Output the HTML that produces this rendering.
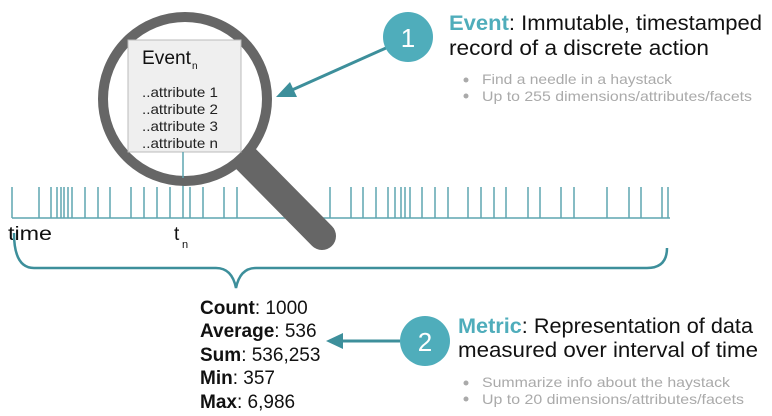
<!DOCTYPE html>
<html><head><meta charset="utf-8"><style>
body{margin:0;background:#fff;}
svg{display:block;font-family:"Liberation Sans",sans-serif;}
</style></head><body>
<svg width="772" height="416" viewBox="0 0 772 416" xmlns="http://www.w3.org/2000/svg">
<!-- timeline -->
<g stroke="#5ea5b0" stroke-width="1.5">
<line x1="12" y1="218" x2="670" y2="218"/>
<path d="M12 187V218M39 187V218M51 187V218M57 187V218M61 187V218M64 187V218M68 187V218M72 187V218M85 187V218M98 187V218M110 187V218M131 187V218M144 187V218M157 187V218M170 187V218M190 187V218M203 187V218M224 187V218M237 187V218M330 187V218M351 187V218M363 187V218M376 187V218M388 187V218M395 187V218M401 187V218M405 187V218M410 187V218M422 187V218M435 187V218M448 187V218M468 187V218M481 187V218M494 187V218M506 187V218M528 187V218M540 187V218M561 187V218M574 187V218M607 187V218M629 187V218M641 187V218M662 187V218M668 187V218"/>
<line x1="183" y1="152" x2="183" y2="218"/>
</g>
<text x="8" y="240" font-size="19" fill="#111" textLength="44" lengthAdjust="spacingAndGlyphs">time</text>
<text x="174" y="240" font-size="19" fill="#111">t</text>
<text x="182" y="248" font-size="11" fill="#111">n</text>
<!-- brace -->
<path d="M14 233 Q14 268 34 268 L216 268 Q232 268 236 288 Q240 268 256 268 L647 268 Q667 268 667 248" fill="none" stroke="#3d8f9b" stroke-width="2.5"/>
<!-- magnifier -->
<line x1="245" y1="158" x2="322" y2="236" stroke="#666" stroke-width="28" stroke-linecap="round"/>
<circle cx="185" cy="99" r="82" fill="#fff" stroke="#666" stroke-width="10"/>
<rect x="128" y="40" width="113" height="112" fill="#efefef" stroke="#bbb" stroke-width="1"/>
<line x1="183" y1="152" x2="183" y2="178" stroke="#5ea5b0" stroke-width="1.5"/>
<text x="142" y="64" font-size="19" fill="#111" textLength="49" lengthAdjust="spacingAndGlyphs">Event</text>
<text x="192" y="69" font-size="10" fill="#111">n</text>
<g font-size="14" fill="#222">
<text x="142" y="97" textLength="76" lengthAdjust="spacingAndGlyphs">..attribute 1</text>
<text x="142" y="114" textLength="76" lengthAdjust="spacingAndGlyphs">..attribute 2</text>
<text x="142" y="131" textLength="76" lengthAdjust="spacingAndGlyphs">..attribute 3</text>
<text x="142" y="148" textLength="76" lengthAdjust="spacingAndGlyphs">..attribute n</text>
</g>
<!-- arrow 1 -->
<line x1="386" y1="48" x2="292" y2="90" stroke="#3d8f9b" stroke-width="3"/>
<polygon points="276,97 290,82 297,97" fill="#3d8f9b"/>
<circle cx="408" cy="37" r="25" fill="#4fadbb"/>
<text x="408" y="47" font-size="26" fill="#fff" text-anchor="middle">1</text>
<text x="449" y="30" font-size="21" fill="#111" textLength="313" lengthAdjust="spacingAndGlyphs"><tspan fill="#4fadbb" font-weight="bold">Event</tspan>: Immutable, timestamped</text>
<text x="449" y="55" font-size="21" fill="#111" textLength="260" lengthAdjust="spacingAndGlyphs">record of a discrete action</text>
<g fill="#aaa" font-size="14">
<circle cx="466" cy="80" r="2.5"/><circle cx="466" cy="96" r="2.5"/>
<text x="482" y="84" textLength="190" lengthAdjust="spacingAndGlyphs">Find a needle in a haystack</text>
<text x="482" y="101" textLength="270" lengthAdjust="spacingAndGlyphs">Up to 255 dimensions/attributes/facets</text>
</g>
<!-- metric -->
<g font-size="19" fill="#111">
<text x="200" y="314"><tspan font-weight="bold">Count</tspan>: 1000</text>
<text x="200" y="337"><tspan font-weight="bold">Average</tspan>: 536</text>
<text x="200" y="361"><tspan font-weight="bold">Sum</tspan>: 536,253</text>
<text x="200" y="384"><tspan font-weight="bold">Min</tspan>: 357</text>
<text x="200" y="408"><tspan font-weight="bold">Max</tspan>: 6,986</text>
</g>
<line x1="400" y1="341" x2="340" y2="341" stroke="#3d8f9b" stroke-width="3"/>
<polygon points="326,341 343,333 343,349" fill="#3d8f9b"/>
<circle cx="425" cy="341" r="25" fill="#4fadbb"/>
<text x="425" y="351" font-size="26" fill="#fff" text-anchor="middle">2</text>
<text x="458" y="333" font-size="21" fill="#111" textLength="295" lengthAdjust="spacingAndGlyphs"><tspan fill="#4fadbb" font-weight="bold">Metric</tspan>: Representation of data</text>
<text x="458" y="357" font-size="21" fill="#111" textLength="300" lengthAdjust="spacingAndGlyphs">measured over interval of time</text>
<g fill="#aaa" font-size="14">
<circle cx="466" cy="383" r="2.5"/><circle cx="466" cy="399" r="2.5"/>
<text x="482" y="387" textLength="248" lengthAdjust="spacingAndGlyphs">Summarize info about the haystack</text>
<text x="482" y="404" textLength="262" lengthAdjust="spacingAndGlyphs">Up to 20 dimensions/attributes/facets</text>
</g>
</svg>
</body></html>
